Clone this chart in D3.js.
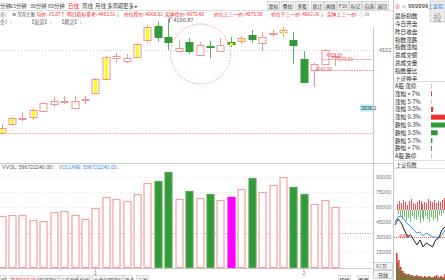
<!DOCTYPE html>
<html><head><meta charset="utf-8">
<script src="https://cdn.jsdelivr.net/npm/d3@7"></script>
<style>html,body{margin:0;padding:0;background:#fff;overflow:hidden}</style>
</head><body><svg id="c" width="445" height="280"></svg>
<script>
// ---------------- DATA ----------------
const days = d3.range(1, 34);
const openP  = [3864.7,3889.6,3906,3910.4,3927.6,3949.6,3956,3938.2,3960.5,3979,4019,4079,4071.4,4082.8,4132,4170.6,4139,4100,4125,4086,4114,4099,4125.7,4127.7,4145,4122,4150,4153.5,4130.6,4076,4043.98,4062,4084];
const highP  = [3890,3910,3924.7,3936,3952,3968.5,3970.5,3970.5,3970.5,4022,4085,4093.4,4090.6,4121,4173.5,4183,4190.87,4129,4136,4125,4127.7,4136,4139,4142,4159,4153.5,4159,4168,4153.5,4099,4065,4104,4090.6];
const lowP   = [3860,3886,3899,3902,3925,3939,3947.6,3937,3947.6,3976,4017,4065,4065,4080,4122,4125.7,4102,4094,4090.6,4084,4079,4096,4110.6,4119,4122,4099,4139,4139,4062,4007.7,3996,4060,4056];
const closeP = [3879,3907.6,3908,3930.5,3950.5,3957,3957.5,3957,3961.5,4019,4082,4085,4080,4119,4168,4138.3,4125,4108.6,4099,4115,4113,4116,4121,4136,4133.5,4139,4151,4159,4116,4010.5,4062,4102,4085.5];
const volume = [51000,52000,52000,47000,46300,55000,56000,52000,48300,59000,70000,68000,66000,73000,84000,86300,95300,68000,76000,69000,73000,67000,70300,78000,89000,75300,82000,90300,80000,73000,63300,67000,59672];
const yellowDays = [1,2,4,10,11,14,15,23,24,28];
const magentaDays = [23];
const monthTicks = [10, 30];
const monthLabels = ["1", "2"];
const priceTicks = [4102];
const markPrice = 3936.2;
const volTicks = [15000,30000,45000,60000,75000,90000];
const priceRefLine = 3864.7;
const volRefLine = 34300;
const supportLevels = [4075.00, 4043.98];
const supportLabels = ["4083.80", "4075.00", "4043.98"];
const highLabel = "4190.87";

// right panel
const listItems1 = ["最新指数","今日开盘","昨日收盘","指数涨跌","指数涨幅","总成交额","总成交量","指数量比","上证换手"];
const breadthLabels = ["A股 涨停","涨幅 > 7%","涨幅 5-7%","涨幅 3-5%","涨幅 0-3%","跌幅 0-3%","跌幅 3-5%","跌幅 5-7%","跌幅 > 7%","A股 跌停"];
const breadthCounts = [20, 70, 60, 160, 1100, 1050, 480, 100, 60, 30];
// mini intraday chart
const miniBlue  = [4083,4089,4090.2,4085.4,4080.6,4078.2,4073.4,4069.8,4071,4066.2,4069.8,4067.4,4065,4065,4063.8,4067.4,4073.4];
const miniBlack = [4079.4,4086.6,4081.8,4073.4,4065,4067.4,4061.4,4055.4,4061.4,4053,4057.8,4055.4,4053,4061.4,4063.8,4073.4,4077];
const miniRef = 4065;
const miniUp   = [6,9,7,10,8,5,9,11,7,6,8,10,9,6,8,7,11,9,8,10,7,9,8,10,12];
const miniDown = [4,6,9,7,11,8,12,6,9,10,7,13,8,11,6,9,12,7,10,8,11,5,6,3,2];
const miniVolRed   = [27,20,13,9,7,6,6,5,5,4,5,4,4,3,4,3,4,3,3,4,5,3,4,3,6];
const miniVolGreen = [18,12,9,7,5,5,4,4,3,4,3,3,3,2,3,2,3,2,2,3,2,2,3,2,2];

// ---------------- DRAW ----------------
const svg = d3.select("#c");
const CJK = "'Noto Sans CJK SC', sans-serif";
const NUM = "'Liberation Sans', Arial, sans-serif";
const UP = "#f09494", DN = "#339a3a";
svg.append("rect").attr("width",445).attr("height",280).attr("fill","#fff");

const n = days.length;
const x = d3.scaleBand().domain(d3.range(n)).range([-3.61, -3.61 + n*10.42]).paddingInner(0.25).paddingOuter(0.125);
const bw = 7;
const cx = i => Math.round(x(i) + x.bandwidth()/2) + 0.5;
const yP = d3.scaleLinear().domain([3781.8, 4210.6]).range([162, 12]);
const yV = d3.scaleLinear().domain([0, 105000]).range([267, 162]);
const plotR = 373;

// frame lines
const frame = svg.append("g").attr("stroke","#c8c8c8").attr("stroke-width",1);
frame.append("line").attr("x1",0).attr("x2",393).attr("y1",163.5).attr("y2",163.5);
frame.append("line").attr("x1",plotR+0.5).attr("x2",plotR+0.5).attr("y1",27).attr("y2",272);
frame.append("line").attr("x1",393.5).attr("x2",393.5).attr("y1",0).attr("y2",280);
frame.append("line").attr("x1",0).attr("x2",plotR).attr("y1",268.5).attr("y2",268.5);

// gridlines
svg.append("g").selectAll("line").data(priceTicks).join("line")
  .attr("x1",0).attr("x2",plotR).attr("y1",d=>Math.round(yP(d))+0.5).attr("y2",d=>Math.round(yP(d))+0.5)
  .attr("stroke","#d0d0d0").attr("stroke-dasharray","1,2");
svg.append("g").selectAll("line").data(volTicks).join("line")
  .attr("x1",0).attr("x2",plotR).attr("y1",d=>Math.round(yV(d))+0.5).attr("y2",d=>Math.round(yV(d))+0.5)
  .attr("stroke","#e2e2e2").attr("stroke-dasharray","1,2");

// ref dotted lines
svg.append("line").attr("x1",0).attr("x2",plotR).attr("y1",Math.round(yP(priceRefLine))+0.5).attr("y2",Math.round(yP(priceRefLine))+0.5)
  .attr("stroke","#f08080").attr("stroke-dasharray","1,1.5");
svg.append("line").attr("x1",0).attr("x2",plotR).attr("y1",Math.round(yV(volRefLine))+0.5).attr("y2",Math.round(yV(volRefLine))+0.5)
  .attr("stroke","#e08a8a").attr("stroke-dasharray","1,1.5");

// candles
const idx = d3.range(n);
const isUp = i => closeP[i] >= openP[i];
const cg = svg.append("g");
cg.selectAll("line.w").data(idx).join("line")
  .attr("x1",cx).attr("x2",cx).attr("y1",i=>yP(highP[i])).attr("y2",i=>yP(lowP[i]))
  .attr("stroke",i=>isUp(i)?UP:"#5fae5f").attr("stroke-width",1);
cg.selectAll("rect.b").data(idx).join("rect")
  .attr("x",i=>cx(i)-3.5).attr("width",bw)
  .attr("y",i=>Math.round(yP(Math.max(openP[i],closeP[i])))+0.5)
  .attr("height",i=>Math.max(1,Math.round(Math.abs(yP(openP[i])-yP(closeP[i])))))
  .attr("fill",i=>isUp(i)?"#fff":DN).attr("stroke",i=>isUp(i)?UP:DN).attr("stroke-width",1);
cg.selectAll("rect.yl").data(idx.filter(i=>yellowDays.includes(days[i]))).join("rect")
  .attr("x",i=>cx(i)-1.5).attr("width",3)
  .attr("y",i=>Math.round(yP(Math.max(openP[i],closeP[i])))+1)
  .attr("height",i=>Math.max(2,Math.round(Math.abs(yP(openP[i])-yP(closeP[i])))-1))
  .attr("fill","#ffff00");

// high marker
const hi = highP.indexOf(d3.max(highP));
svg.append("path").attr("d",`M${cx(hi)+1},${yP(highP[hi])+4}V${yP(highP[hi])-1}h3`).attr("fill","none").attr("stroke","#777").attr("stroke-width",0.8);
svg.append("text").attr("x",cx(hi)+5).attr("y",yP(highP[hi])+3).text(highLabel)
  .attr("font-family",NUM).attr("font-size",5.5).attr("fill","#555");

// dashed circle annotation
svg.append("circle").attr("cx",cx(19)).attr("cy",yP(4090.6)).attr("r",30)
  .attr("fill","none").attr("stroke","#f29a9a").attr("stroke-dasharray","1.5,1.5");

// support dashed lines + labels
svg.append("line").attr("x1",cx(31)-3).attr("x2",plotR).attr("y1",Math.round(yP(supportLevels[0]))+0.5).attr("y2",Math.round(yP(supportLevels[0]))+0.5)
  .attr("stroke","#f08a8a").attr("stroke-dasharray","1.5,1");
svg.append("line").attr("x1",cx(30)-3).attr("x2",plotR).attr("y1",Math.round(yP(supportLevels[1]))+0.5).attr("y2",Math.round(yP(supportLevels[1]))+0.5)
  .attr("stroke","#f08a8a").attr("stroke-dasharray","1.5,1");
const lblG = svg.append("g").attr("font-family",NUM).attr("font-size",4.5).attr("fill","#e86a6a");
lblG.append("text").attr("x",cx(31)+0.5).attr("y",yP(4083.8)+0.5).text(supportLabels[0]);
lblG.append("text").attr("x",cx(32)+1).attr("y",yP(4075)+1.2).text(supportLabels[1]);
lblG.append("text").attr("x",cx(30)+1).attr("y",yP(4043.98)+1).text(supportLabels[2]);

// volume bars
const vg = svg.append("g");
vg.selectAll("rect").data(idx).join("rect")
  .attr("x",i=>cx(i)-3.5).attr("width",bw)
  .attr("y",i=>Math.round(yV(volume[i]))+0.5)
  .attr("height",i=>yV(0)-Math.round(yV(volume[i])))
  .attr("fill",i=>magentaDays.includes(days[i])?"#ff00ff":(isUp(i)?"#fff":DN))
  .attr("stroke",i=>magentaDays.includes(days[i])?"#ff00ff":(isUp(i)?"#f6a0a0":"#5aa95a"))
  .attr("stroke-width",1.2);

// axes
const axP = svg.append("g").attr("transform",`translate(${plotR},0)`)
  .call(d3.axisRight(yP).tickValues(priceTicks).tickSize(0).tickPadding(6).tickFormat(d3.format("d")));
axP.select(".domain").remove();
axP.selectAll("text").attr("font-family",NUM).attr("font-size",5.5).attr("fill","#666");
const axV = svg.append("g").attr("transform",`translate(${plotR},0)`)
  .call(d3.axisRight(yV).tickValues(volTicks).tickSize(0).tickPadding(3).tickFormat(d3.format("d")));
axV.select(".domain").remove();
axV.selectAll("text").attr("font-family",NUM).attr("font-size",5.5).attr("fill","#777");
svg.append("rect").attr("x",360).attr("y",yP(markPrice)-3.5).attr("width",13).attr("height",7).attr("fill","#aeeef0");
svg.append("text").attr("x",361).attr("y",yP(markPrice)+2).text(markPrice.toFixed(1))
  .attr("font-family",NUM).attr("font-size",5).attr("fill","#444");

const axX = svg.append("g").attr("transform","translate(0,268.5)")
  .call(d3.axisBottom(x).tickValues(monthTicks.map(d=>d-1)).tickSize(2).tickPadding(1).tickFormat((d,k)=>monthLabels[k]));
axX.select(".domain").remove();
axX.selectAll("line").attr("stroke","#bbb");
axX.selectAll("text").attr("font-family",NUM).attr("font-size",5).attr("fill","#777");

// volume legend
const vl = svg.append("text").attr("x",2).attr("y",168.5).attr("font-family",NUM).attr("font-size",5.2);
vl.append("tspan").attr("fill","#555").text("VVOL: 596722240.00");
vl.append("tspan").attr("fill","#e33").text("↑");
vl.append("tspan").attr("fill","#3a8ee6").attr("dx",4).text("VOLUME: 596722240.00");
vl.append("tspan").attr("fill","#2a2").text("↓");

// ---------------- TOOLBAR ----------------
const tb = svg.append("g").attr("font-family",CJK).attr("font-size",5.4);
const periods = [["分钟",0,"#444"],["15分钟",10,"#444"],["30分钟",30,"#444"],["60分钟",48,"#444"],["日线",68,"#e22"],["周线",82,"#444"],["月线",95,"#444"],["多周期",107,"#444"],["更多 ▸",123,"#444"]];
tb.selectAll("text.p").data(periods).join("text").attr("x",d=>d[1]).attr("y",7.5).attr("fill",d=>d[2]).text(d=>d[0]);
const buttons = [["复权",267,12],["叠加",281,12],["多股",295,13],["统计",311,12],["画线",324,12],["F10",337,11],["标记",349,12],["-自选",362,12],["返回",375,13]];
tb.selectAll("rect.btn").data(buttons).join("rect").attr("x",d=>d[1]+0.5).attr("y",1.5).attr("width",d=>d[2]).attr("height",8)
  .attr("fill","#efefef").attr("stroke","#c4c4c4").attr("stroke-width",0.6);
tb.selectAll("text.btn").data(buttons).join("text").attr("x",d=>d[1]+d[2]/2+0.5).attr("y",7.6).attr("text-anchor","middle").attr("fill","#333").attr("font-size",4.8).text(d=>d[0]);
svg.append("line").attr("x1",0).attr("x2",393).attr("y1",10.5).attr("y2",10.5).attr("stroke","#ddd");

const r2 = svg.append("text").attr("x",0).attr("y",15.8).attr("font-family",CJK).attr("font-size",4.8);
r2.append("tspan").attr("fill","#666").text("奇)");
r2.append("tspan").attr("fill","#555").attr("x",12).text("⊛");
r2.append("tspan").attr("fill","#555").attr("x",17.5).attr("font-size",4.3).text("常用主图");
r2.append("tspan").attr("fill","#e22").attr("x",36.5).text("均价: 15.87");
r2.append("tspan").attr("fill","#e22").text("↑");
r2.append("tspan").attr("fill","#e22").attr("x",67).text("明日指标参考: 4483.51");
r2.append("tspan").attr("fill","#2a2").text("↓");
r2.append("tspan").attr("fill","#e22").attr("x",124).text("价位撑价: 4068.82");
r2.append("tspan").attr("fill","#e22").attr("x",165).text("实体撑价: 4075.48");
r2.append("tspan").attr("fill","#e22").attr("x",214).text("价位上三一价: 4075.58");
r2.append("tspan").attr("fill","#e22").attr("x",271).text("价位下三一价: 4062.26");
r2.append("tspan").attr("fill","#2a2").text("↓");
r2.append("tspan").attr("fill","#e22").attr("x",327).text("实体上三一价:");
r2.append("tspan").attr("fill","#666").attr("x",359).text("◇ ⊡");
const r3 = svg.append("text").attr("y",23.5).attr("font-family",CJK).attr("font-size",5.2).attr("fill","#666");
r3.append("tspan").attr("x",0).text("企）:");
r3.append("tspan").attr("x",29).text("【如意】:");
r3.append("tspan").attr("x",59).text("【概念】:");

// bottom tabs
const tabs = [["打",0,6,"#444"],["筹码分布(红)",9,25,"#e22"],["基础指标",37,21,"#444"],["五彩K线",59,18,"#444"],["均线",78,12,"#444"],["大盘同列指标",92,30,"#444"],["更多",123,9,"#444"],["工具",136,12,"#444"],["切换",338,12,"#444"],["重置",357,11,"#444"]];
const tg = svg.append("g").attr("font-family",CJK).attr("font-size",5);
tg.selectAll("rect").data(tabs).join("rect").attr("x",d=>d[1]+0.5).attr("y",275.5).attr("width",d=>d[2]).attr("height",8)
  .attr("fill","#f4f4f4").attr("stroke","#c8c8c8").attr("stroke-width",0.6);
tg.selectAll("text").data(tabs).join("text").attr("x",d=>d[1]+1.5).attr("y",281.5).attr("fill",d=>d[3]).text(d=>d[0]);
svg.append("rect").attr("x",373.5).attr("y",262.5).attr("width",19).attr("height",7).attr("fill","#f4f4f4").attr("stroke","#bbb").attr("stroke-width",0.6);
svg.append("text").attr("x",376).attr("y",268).attr("font-family",CJK).attr("font-size",5).attr("fill","#555").text("X1万");
svg.append("rect").attr("x",373.5).attr("y",270.5).attr("width",19).attr("height",8).attr("fill","#f4f4f4").attr("stroke","#bbb").attr("stroke-width",0.6);
svg.append("text").attr("x",378).attr("y",277).attr("font-family",CJK).attr("font-size",5).attr("fill","#333").text("日线");

// ---------------- RIGHT PANEL ----------------
const rp = svg.append("g").attr("font-family",CJK).attr("font-size",5.6);
rp.append("rect").attr("x",430).attr("y",1).attr("width",15).attr("height",21).attr("fill","#ececec").attr("stroke","#bbb").attr("stroke-width",0.6);
rp.append("text").attr("x",433).attr("y",20.5).attr("font-size",9).attr("fill","#9a9a9a").text("投");
const hdr = rp.append("text").attr("x",395).attr("y",8);
hdr.append("tspan").attr("fill","#e33").attr("font-size",5).text("⊗");
hdr.append("tspan").attr("fill","#3a3").attr("dx",1.5).attr("font-size",5).text("≡");
hdr.append("tspan").attr("fill","#222").attr("dx",1.5).attr("font-family",NUM).attr("font-size",6).text("999999");
hdr.append("tspan").attr("fill","#2a6fd6").attr("font-size",5).text("上证指");
rp.selectAll("text.l1").data(listItems1).join("text").attr("x",395).attr("y",(d,k)=>18.2+k*7.8).attr("fill","#222").text(d=>d);
svg.append("line").attr("x1",393).attr("x2",445).attr("y1",81.5).attr("y2",81.5).attr("stroke","#ddd");
const bx = d3.scaleLinear().domain([0,1050]).range([0,14.5]);
rp.selectAll("text.l2").data(breadthLabels).join("text").attr("x",395).attr("y",(d,k)=>88+k*7.8).attr("fill","#222").text(d=>d);
rp.selectAll("rect.bb").data(breadthCounts).join("rect").attr("x",431).attr("y",(d,k)=>83.5+k*7.8).attr("height",5)
  .attr("width",d=>Math.max(0.9,bx(d)))
  .attr("fill",(d,k)=>k<5?(k===0||k===2?"#f7b6b6":"#ee3030"):(k===9?"#a8d8a8":"#2e9a36"));
svg.append("line").attr("x1",393).attr("x2",445).attr("y1",160.5).attr("y2",160.5).attr("stroke","#ddd");
rp.append("text").attr("x",396).attr("y",167).attr("font-size",5.2).attr("fill","#333").text("上证指数");
svg.append("line").attr("x1",393).attr("x2",445).attr("y1",168.5).attr("y2",168.5).attr("stroke","#ddd");

// mini chart
const mx = d3.scaleLinear().domain([0, miniUp.length-1]).range([397, 444]);
const mg = svg.append("g");
mg.selectAll("line.u").data(miniUp).join("line").attr("x1",(d,k)=>Math.round(mx(k))+0.5).attr("x2",(d,k)=>Math.round(mx(k))+0.5)
  .attr("y1",210).attr("y2",d=>210-d).attr("stroke","#f05050").attr("stroke-width",1);
mg.selectAll("line.d").data(miniDown).join("line").attr("x1",(d,k)=>Math.round(mx(k))+1.5).attr("x2",(d,k)=>Math.round(mx(k))+1.5)
  .attr("y1",210).attr("y2",d=>210+d).attr("stroke","#6fbf6f").attr("stroke-width",1);
const my = d3.scaleLinear().domain([4040,4100]).range([257.8,207.8]);
const mlx = d3.scaleLinear().domain([0, miniBlue.length-1]).range([395, 445]);
mg.append("line").attr("x1",394).attr("x2",445).attr("y1",Math.round(my(miniRef))+0.5).attr("y2",Math.round(my(miniRef))+0.5)
  .attr("stroke","#f05a5a").attr("stroke-dasharray","1,1");
mg.append("text").attr("x",399).attr("y",my(miniRef)+1).attr("font-family",NUM).attr("font-size",4.5).attr("fill","#e44").text(String(miniRef));
const ln = d3.line().x((d,k)=>mlx(k)).y(d=>my(d));
mg.append("path").datum(miniBlue).attr("d",ln).attr("fill","none").attr("stroke","#3b8fe8").attr("stroke-width",1);
mg.append("path").datum(miniBlack).attr("d",ln).attr("fill","none").attr("stroke","#222").attr("stroke-width",1);
const mvx = d3.scaleLinear().domain([0, miniVolRed.length-1]).range([396, 444]);
mg.selectAll("rect.vr").data(miniVolRed).join("rect").attr("x",(d,k)=>mvx(k)).attr("width",1.6).attr("y",d=>280-d).attr("height",d=>d).attr("fill","#ee3a3a");
mg.selectAll("rect.vg").data(miniVolGreen).join("rect").attr("x",(d,k)=>mvx(k)+0.9).attr("width",1.2).attr("y",d=>280-d).attr("height",d=>d).attr("fill","#3a9a3a");
</script>
</body></html>
